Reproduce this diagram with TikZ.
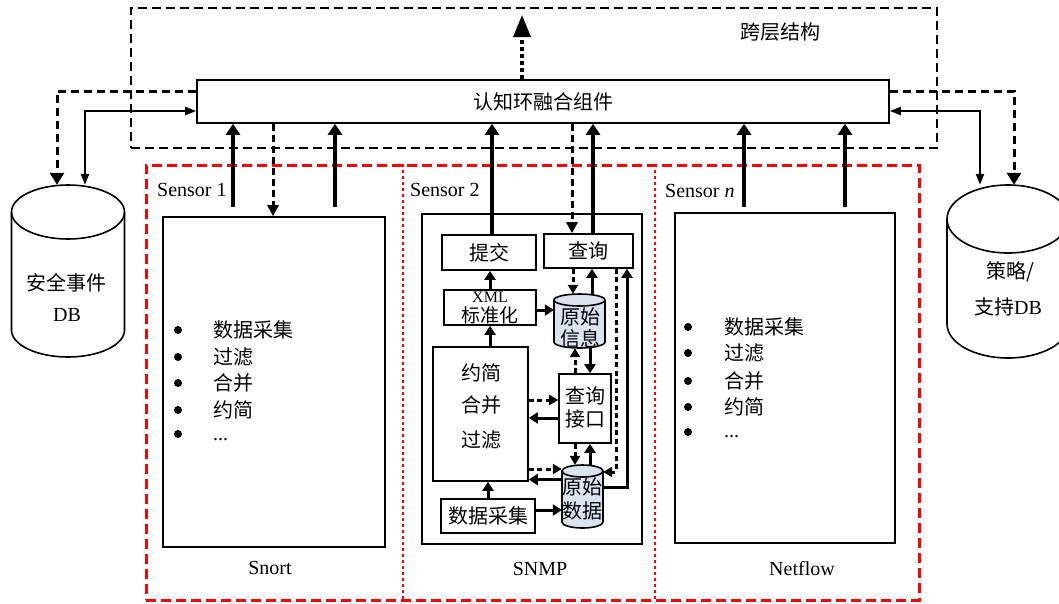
\documentclass[tikz,border=0pt]{standalone}
\usepackage{fontspec}
\setmainfont{Liberation Serif}
\newfontfamily\cjk{Noto Sans CJK SC}
\usetikzlibrary{arrows.meta}
\definecolor{dbfill}{RGB}{218,228,241}
\newcommand\cylshape[6]{% cx, ytop-centre, ybottom-centre, rx, ry, fill
  \filldraw[line width=1.6pt, fill=#6] (#1-#4,#2) -- (#1-#4,#3)
    .. controls (#1-#4,#3+0.552*#5) and (#1-0.552*#4,#3+#5) .. (#1,#3+#5)
    .. controls (#1+0.552*#4,#3+#5) and (#1+#4,#3+0.552*#5) .. (#1+#4,#3)
    -- (#1+#4,#2)
    .. controls (#1+#4,#2-0.552*#5) and (#1+0.552*#4,#2-#5) .. (#1,#2-#5)
    .. controls (#1-0.552*#4,#2-#5) and (#1-#4,#2-0.552*#5) .. (#1-#4,#2) -- cycle;
  \draw[line width=1.6pt] (#1-#4,#2)
    .. controls (#1-#4,#2+0.552*#5) and (#1-0.552*#4,#2+#5) .. (#1,#2+#5)
    .. controls (#1+0.552*#4,#2+#5) and (#1+#4,#2+0.552*#5) .. (#1+#4,#2);
}
\begin{document}
\begin{tikzpicture}[x=1pt,y=-1pt,
  box/.style={draw,line width=1.6pt,inner sep=0pt,fill=white},
  ghost/.style={inner sep=0pt},
  zh/.style={font=\fontsize{20}{24}\selectfont\cjk,inner sep=0pt},
  lat/.style={font=\fontsize{20}{24}\selectfont,inner sep=0pt},
  crossbox/.style={draw,line width=2.8pt,dash pattern=on 9pt off 5pt,inner sep=0pt},
  redbox/.style={draw=red,line width=3pt,dash pattern=on 10pt off 5pt,inner sep=0pt},
  reddiv/.style={draw=red,line width=2.6pt,dash pattern=on 3pt off 3pt},
  bigarrow/.style={line width=3.4pt,-{Triangle[length=11pt,width=14pt]}},
  bigdash/.style={line width=3pt,dash pattern=on 7pt off 4pt,-{Triangle[length=11pt,width=11pt]}},
  updash/.style={line width=3.2pt,dash pattern=on 4pt off 3pt,-{Triangle[length=22pt,width=17pt]}},
  dbsolid/.style={line width=2.2pt,{Triangle[length=11pt,width=8pt]}-{Triangle[length=11pt,width=8pt]}},
  dbdash/.style={line width=3pt,dash pattern=on 8pt off 5pt,-{Triangle[length=12pt,width=14pt]}},
  inarrow/.style={line width=3pt,-{Triangle[length=9pt,width=11pt]}},
  indash/.style={line width=3pt,dash pattern=on 5pt off 3.5pt,-{Triangle[length=9pt,width=10pt]}},
  bullet/.style={circle,fill=black,inner sep=0pt,minimum size=8pt}
]
\useasboundingbox (0,0) rectangle (1059,603);
\clip (0,0) rectangle (1059,603);
\fill[white] (0,0) rectangle (1059,603);

% ---------- frames ----------
\node[crossbox, minimum width=806, minimum height=140] (cross) at (534,78) {};
\node[zh] (crosslbl) at (780,32) {跨层结构};

\node[redbox, minimum width=773, minimum height=435] (sensors) at (532.5,382.5) {};
\coordinate (d1) at (403,0);
\coordinate (d2) at (655,0);
\draw[reddiv] (sensors.north -| d1) -- (sensors.south -| d1);
\draw[reddiv] (sensors.north -| d2) -- (sensors.south -| d2);

% ---------- fusion component ----------
\node[box, zh, minimum width=692, minimum height=43] (fusion) at (543,101.5) {认知环融合组件};

% ---------- databases ----------
\cylshape{68}{212}{330}{56.5}{27}{white}
\node[ghost, minimum width=113, minimum height=172] (dbL) at (68,271) {};
\node[zh] (dbLt1) at (66,283) {安全事件};
\node[lat] (dbLt2) at (67,315) {DB};

\cylshape{1008}{219}{324}{61}{34}{white}
\node[ghost, minimum width=122, minimum height=173] (dbR) at (1008,271.5) {};
\node[zh] (dbRt1) at (1010,272) {策略/};
\node[lat] (dbRt2) at (1008,307) {{\cjk 支持}DB};

% ---------- Sensor 1 ----------
\node[lat, anchor=west] (s1lbl) at (157,190) {Sensor 1};
\node[box, minimum width=222, minimum height=330] (snort) at (274,382) {};
\node[lat] (snortlbl) at (270,568) {Snort};
\foreach \y/\t [count=\i] in {330/数据采集,357/过滤,383/合并,410/约简} {
  \node[bullet] (sb\i) at (178,\y) {};
  \node[zh, anchor=base west] (st\i) at (213,\y+7) {\t};
}
\node[bullet] (sb5) at (178,434) {};
\node[lat, anchor=base west] (st5) at (213,440) {...};

% ---------- Sensor n ----------
\node[lat, anchor=west] (snlbl) at (665,191) {Sensor \textit{n}};
\node[box, minimum width=220, minimum height=330] (netflow) at (785,378) {};
\node[lat] (netflowlbl) at (802,569) {Netflow};
\foreach \y/\t [count=\i] in {327/数据采集,353/过滤,381/合并,407/约简} {
  \node[bullet] (nb\i) at (688,\y) {};
  \node[zh, anchor=base west] (nt\i) at (724,\y+7) {\t};
}
\node[bullet] (nb5) at (688,432) {};
\node[lat, anchor=base west] (nt5) at (724,437) {...};

% ---------- Sensor 2 (SNMP) ----------
\node[lat, anchor=west] (s2lbl) at (410,190) {Sensor 2};
\node[box, minimum width=220, minimum height=330] (snmp) at (532,379) {};
\node[lat] (snmplbl) at (540,569) {SNMP};

\node[box, zh, minimum width=94, minimum height=35] (submit) at (489,252.5) {提交};
\node[box, zh, minimum width=89, minimum height=34] (query) at (588.5,251) {查询};
\node[box, minimum width=92, minimum height=35] (xml) at (490,307.5) {};
\node[font=\fontsize{16}{18}\selectfont, inner sep=0pt] (xmlt1) at (490,297) {XML};
\node[font=\fontsize{19}{22}\selectfont\cjk, inner sep=0pt] (xmlt2) at (490,315.5) {标准化};
\node[box, minimum width=95, minimum height=134] (reduce) at (480.5,414) {};
\node[zh] (rt1) at (481,373) {约简};
\node[zh] (rt2) at (481,405) {合并};
\node[zh] (rt3) at (481,440) {过滤};
\node[box, minimum width=52, minimum height=69] (qiface) at (585,408.5) {};
\node[zh] (qit1) at (585,396) {查询};
\node[zh] (qit2) at (585,419) {接口};
\node[box, zh, minimum width=94, minimum height=34] (collect) at (488,516) {数据采集};

\cylshape{579.5}{300}{342}{25.5}{6}{dbfill}
\node[ghost, minimum width=51, minimum height=54] (rawinfo) at (579.5,321) {};
\node[zh] (rit1) at (580,317) {原始};
\node[zh] (rit2) at (580,339) {信息};

\cylshape{582.5}{471}{522}{20.5}{6}{dbfill}
\node[ghost, minimum width=41, minimum height=63] (rawdata) at (582.5,496.5) {};
\node[zh] (rdt1) at (582,487) {原始};
\node[zh] (rdt2) at (582,511) {数据};

% ---------- connectors: DBs ----------
\coordinate (dLd) at (57,91);
\coordinate (dLs) at (85,111);
\draw[dbdash] (fusion.west |- dLd) -- (dLd) -- (dbL.north -| dLd);
\draw[dbsolid] (dbL.north -| dLs) -- (dLs) -- (fusion.west |- dLs);
\coordinate (dRd) at (1014,91);
\coordinate (dRs) at (980,111);
\draw[dbdash] (fusion.east |- dRd) -- (dRd) -- (dbR.north -| dRd);
\draw[dbsolid] (dbR.north -| dRs) -- (dRs) -- (fusion.east |- dRs);

% ---------- connectors: fusion top ----------
\coordinate (topend) at (522,15);
\draw[updash] (fusion.north -| topend) -- (topend);

% ---------- connectors: Sensor 1 ----------
\coordinate (s1a) at (233,207);
\coordinate (s1b) at (335,207);
\coordinate (s1c) at (273,0);
\draw[bigarrow] (s1a) -- (s1a |- fusion.south);
\draw[bigarrow] (s1b) -- (s1b |- fusion.south);
\draw[bigdash] (fusion.south -| s1c) -- (snort.north -| s1c);

% ---------- connectors: Sensor n ----------
\coordinate (sna) at (744,207);
\coordinate (snb) at (845,207);
\draw[bigarrow] (sna) -- (sna |- fusion.south);
\draw[bigarrow] (snb) -- (snb |- fusion.south);

% ---------- connectors: Sensor 2 ----------
\coordinate (s2a) at (492,0);
\coordinate (s2b) at (572,0);
\coordinate (s2c) at (593,0);
\draw[bigarrow] (submit.north -| s2a) -- (fusion.south -| s2a);
\draw[bigdash] (fusion.south -| s2b) -- (query.north -| s2b);
\draw[bigarrow] (query.north -| s2c) -- (fusion.south -| s2c);

% ---------- connectors inside SNMP ----------
\draw[inarrow] (xml.north) -- (xml.north |- submit.south);
\coordinate (qx) at (0,310);
\draw[inarrow] (xml.east |- qx) -- (rawinfo.west |- qx);
\draw[inarrow] (xml.south |- reduce.north) -- (xml.south);

\coordinate (qa) at (573,0);
\coordinate (qb) at (592,0);
\draw[indash] (query.south -| qa) -- (rawinfo.north -| qa);
\draw[inarrow] (rawinfo.north -| qb) -- (query.south -| qb);

\coordinate (qc) at (575,0);
\coordinate (qd) at (590,0);
\draw[indash] (qiface.north -| qc) -- (rawinfo.south -| qc);
\draw[inarrow] (rawinfo.south -| qd) -- (qiface.north -| qd);

\coordinate (qe) at (0,400);
\coordinate (qf) at (0,418);
\draw[indash] (reduce.east |- qe) -- (qiface.west |- qe);
\draw[inarrow] (qiface.west |- qf) -- (reduce.east |- qf);

\draw[indash] (qiface.south -| qc) -- (rawdata.north -| qc);
\draw[inarrow] (rawdata.north -| qd) -- (qiface.south -| qd);

\coordinate (qg) at (0,469);
\coordinate (qh) at (0,479.5);
\draw[indash] (reduce.east |- qg) -- (rawdata.west |- qg);
\draw[inarrow] (rawdata.west |- qh) -- (reduce.east |- qh);

\coordinate (qi) at (616,472);
\coordinate (qj) at (627,487);
\draw[indash] (query.south -| qi) -- (qi) -- (rawdata.east |- qi);
\draw[inarrow] (rawdata.east |- qj) -- (qj) -- (query.south -| qj);

\draw[inarrow] (collect.north) -- (collect.north |- reduce.south);
\coordinate (qk) at (0,510);
\draw[inarrow] (collect.east |- qk) -- (rawdata.west |- qk);
\end{tikzpicture}
\end{document}
